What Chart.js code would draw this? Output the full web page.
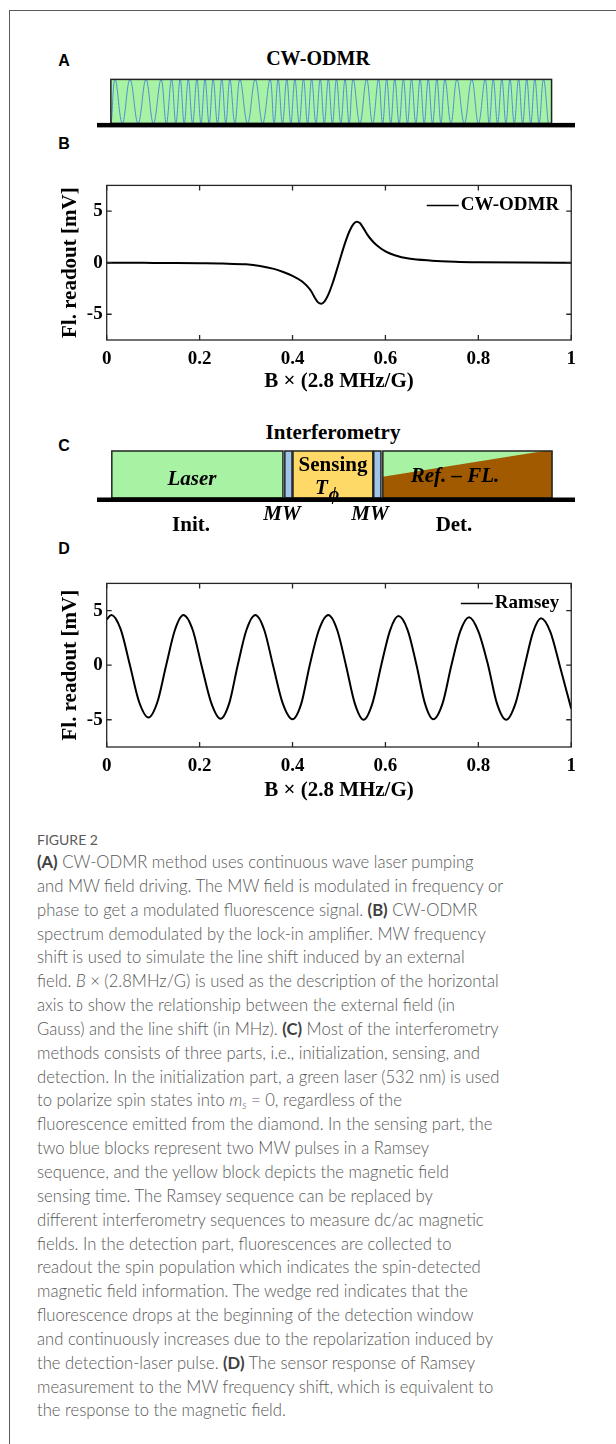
<!DOCTYPE html>
<html>
<head>
<meta charset="utf-8">
<script src="https://cdn.jsdelivr.net/npm/chart.js@4.4.1/dist/chart.umd.min.js"></script>
<style>
html, body { margin: 0; padding: 0; background: #fff; }
body { width: 616px; height: 1444px; position: relative; overflow: hidden; }
.frame { position: absolute; left: 9px; top: 10px; width: 620px; height: 1450px; border-left: 1px solid #5a5a5a; border-top: 1px solid #5a5a5a; }
canvas { position: absolute; }
.lbl { position: absolute; font-family: "Liberation Sans", Arial, sans-serif; font-weight: bold; font-size: 16px; color: #000; transform: translate(-50%, -50%); line-height: 1; }
.tx { position: absolute; font-family: "Liberation Serif", "Times New Roman", serif; font-weight: bold; font-size: 21px; color: #000; transform: translate(-50%, -50%); white-space: nowrap; line-height: 1; }
.it { font-style: italic; }
.cap { position: absolute; left: 37px; font-family: Lato, "Open Sans", sans-serif; font-weight: 300; color: #585858; font-size: 16.65px; white-space: nowrap; line-height: 23.85px; }
.cap b { color: #404040; font-weight: 700; }
.cap sub { font-size: 11px; vertical-align: -3px; line-height: 0; }
.fig { position: absolute; left: 37px; top: 831px; font-family: Lato, "Open Sans", sans-serif; color: #5a5a5a; font-size: 14px; line-height: 18px; }
</style>
</head>
<body>
<div class="frame"></div>

<div class="lbl" style="left:64px; top:61px;">A</div>
<div class="lbl" style="left:64px; top:144px;">B</div>
<div class="lbl" style="left:64px; top:446px;">C</div>
<div class="lbl" style="left:64px; top:549px;">D</div>

<div class="tx" style="left:318px; top:58px; font-size:20px;">CW-ODMR</div>
<canvas id="cvA" width="478" height="55" style="left:97px; top:75px;"></canvas>

<canvas id="cvB" width="540" height="226" style="left:44px; top:170px;"></canvas>

<div class="tx" style="left:333px; top:432px;">Interferometry</div>
<canvas id="cvC" width="478" height="58" style="left:97px; top:447px;"></canvas>
<div class="tx it" style="left:192px; top:478px;">Laser</div>
<div class="tx" style="left:333px; top:464px;">Sensing</div>
<div class="tx it" style="left:327px; top:487px;">T<span style="font-size:18px; position:relative; top:6px; margin-left:1px;">&#981;</span></div>
<div class="tx it" style="left:455px; top:475px;">Ref. &ndash; FL.</div>
<div class="tx it" style="left:282px; top:513px;">MW</div>
<div class="tx it" style="left:370px; top:513px;">MW</div>
<div class="tx" style="left:191px; top:524px;">Init.</div>
<div class="tx" style="left:454px; top:524px;">Det.</div>

<canvas id="cvD" width="540" height="237" style="left:44px; top:568px;"></canvas>

<div class="fig">FIGURE 2</div>
<div class="cap" style="top:851px;">
<div><b>(A)</b> CW-ODMR method uses continuous wave laser pumping</div>
<div>and MW field driving. The MW field is modulated in frequency or</div>
<div>phase to get a modulated fluorescence signal. <b>(B)</b> CW-ODMR</div>
<div>spectrum demodulated by the lock-in amplifier. MW frequency</div>
<div>shift is used to simulate the line shift induced by an external</div>
<div>field. <i>B</i> &times; (2.8MHz/G) is used as the description of the horizontal</div>
<div>axis to show the relationship between the external field (in</div>
<div>Gauss) and the line shift (in MHz). <b>(C)</b> Most of the interferometry</div>
<div>methods consists of three parts, i.e., initialization, sensing, and</div>
<div>detection. In the initialization part, a green laser (532 nm) is used</div>
<div>to polarize spin states into <i>m<sub>s</sub></i> = 0, regardless of the</div>
<div>fluorescence emitted from the diamond. In the sensing part, the</div>
<div>two blue blocks represent two MW pulses in a Ramsey</div>
<div>sequence, and the yellow block depicts the magnetic field</div>
<div>sensing time. The Ramsey sequence can be replaced by</div>
<div>different interferometry sequences to measure dc/ac magnetic</div>
<div>fields. In the detection part, fluorescences are collected to</div>
<div>readout the spin population which indicates the spin-detected</div>
<div>magnetic field information. The wedge red indicates that the</div>
<div>fluorescence drops at the beginning of the detection window</div>
<div>and continuously increases due to the repolarization induced by</div>
<div>the detection-laser pulse. <b>(D)</b> The sensor response of Ramsey</div>
<div>measurement to the MW frequency shift, which is equivalent to</div>
<div>the response to the magnetic field.</div>
</div>

<script>
// ---- data ----

// panel A: time axis runs 0..100 along the black base line
var cwBlock = [2.9, 95.1];
var chirpPeaks = [3.8, 6.9, 10.25, 13.4, 15.6, 17.4, 19.1, 20.9, 22.6, 24.3, 26.1, 27.8, 29.9, 33.1,
  36.2, 37.9, 39.7, 41.4, 43.2, 44.9, 46.7, 48.4, 50.1, 51.9, 53.6, 56.4, 58.9, 60.6, 62.3, 64.1,
  65.8, 67.6, 69.3, 71.1, 72.8, 75.3, 78.4, 81.2, 82.9, 84.7, 86.4, 88.2, 89.9, 91.6, 93.4];
var chirpTroughs = [3.0, 5.3, 8.6, 11.8, 14.5, 16.5, 18.25, 20.0, 21.75, 23.45, 25.2, 26.95, 28.85, 31.5,
  34.65, 37.05, 38.8, 40.55, 42.3, 44.05, 45.8, 47.55, 49.25, 51.0, 52.75, 55.0, 57.65, 59.75, 61.45,
  63.2, 64.95, 66.7, 68.45, 70.2, 71.95, 74.05, 76.85, 79.8, 82.05, 83.8, 85.55, 87.3, 89.05, 90.75,
  92.5, 94.4];

// panel B: CW-ODMR lock-in spectrum
var odmrX = [0, 0.05, 0.1, 0.15, 0.2, 0.25, 0.3, 0.33, 0.36, 0.38, 0.4, 0.42, 0.43, 0.44, 0.448, 0.455,
  0.462, 0.469, 0.477, 0.487, 0.5, 0.513, 0.523, 0.531, 0.538, 0.545, 0.552, 0.56, 0.57, 0.58, 0.6,
  0.62, 0.65, 0.7, 0.75, 0.8, 0.9, 1.0];
var odmrY = [0, 0, -0.02, -0.03, -0.05, -0.08, -0.16, -0.32, -0.6, -0.9, -1.27, -1.8, -2.2, -2.75, -3.4,
  -3.85, -3.98, -3.75, -3.1, -1.9, 0, 1.9, 3.1, 3.75, 3.98, 3.85, 3.4, 2.8, 2.2, 1.75, 1.1, 0.73,
  0.4, 0.2, 0.1, 0.05, 0.01, 0];

// panel C: interferometry sequence blocks on the same 0..100 time axis
var seqNames = ['Laser', 'MW', 'Sensing', 'MW', 'Ref. - FL.'];
var seqStart = [3.1, 39.3, 41.0, 57.9, 59.8];
var seqEnd = [38.9, 40.8, 57.7, 59.4, 95.2];
var wedgeTop = [59.8, 93.5];   // green part of the detection window, along its top edge
var wedgeLeft = 0.45;          // height where the wedge meets the left edge (0..1)

// panel D: Ramsey fringes
var ramseyX = [0, 0.01, 0.03, 0.05, 0.07, 0.09, 0.109, 0.128, 0.147, 0.165, 0.185, 0.204, 0.225, 0.245,
  0.264, 0.282, 0.301, 0.32, 0.339, 0.358, 0.379, 0.4, 0.419, 0.437, 0.457, 0.477, 0.496, 0.515,
  0.534, 0.553, 0.572, 0.591, 0.61, 0.628, 0.648, 0.667, 0.685, 0.703, 0.723, 0.742, 0.761, 0.78,
  0.8, 0.821, 0.84, 0.86, 0.88, 0.9, 0.918, 0.935, 0.955, 0.975, 1.0];
var ramseyY = [4.2, 4.6, 3.3, 0, -3.4, -4.8, -3.4, 0, 3.25, 4.6, 3.25, 0, -3.45, -4.9,
  -3.45, 0, 3.25, 4.6, 3.25, 0, -3.5, -4.95, -3.5, 0, 3.25, 4.6, 3.25, 0,
  -3.5, -5.0, -3.5, 0, 3.2, 4.5, 3.2, 0, -3.5, -4.95, -3.5, 0, 3.1, 4.4,
  3.1, 0, -3.5, -5.0, -3.5, 0, 3.05, 4.3, 3.05, 0, -4.0];

var xTicks = [0, 0.2, 0.4, 0.6, 0.8, 1];
var xTickLabels = ['0', '0.2', '0.4', '0.6', '0.8', '1'];
var yTicks = [-5, 0, 5];
var yTickLabels = ['-5', '0', '5'];

// ---- drawing ----
var SERIF = '"Liberation Serif", "Times New Roman", serif';
var BLOCK_COLORS = ['#a8f2a4', '#9fc6ea', '#ffd968', '#9fc6ea', '#a15a00'];
var WEDGE_GREEN = '#a8f2a4';

function toPoints(xs, ys) {
  return xs.map(function(x, i) { return { x: x, y: ys[i] }; });
}

function chirpPoints() {
  var pts = chirpPeaks.map(function(x) { return { x: x, y: 1 }; })
    .concat(chirpTroughs.map(function(x) { return { x: x, y: 0 }; }));
  pts.sort(function(a, b) { return a.x - b.x; });
  return pts;
}

function baseLine(chart) {
  var ctx = chart.ctx, x = chart.scales.x, y = chart.scales.y;
  var y0 = y.getPixelForValue(0);
  ctx.fillStyle = '#000';
  ctx.fillRect(x.getPixelForValue(0), y0 - 0.5, x.getPixelForValue(100) - x.getPixelForValue(0), 4.5);
}

var cwPlugin = {
  id: 'cwBlock',
  beforeDatasetsDraw: function(chart) {
    var ctx = chart.ctx, x = chart.scales.x, y = chart.scales.y;
    ctx.save();
    ctx.fillStyle = BLOCK_COLORS[0];
    ctx.fillRect(x.getPixelForValue(cwBlock[0]), y.getPixelForValue(1),
      x.getPixelForValue(cwBlock[1]) - x.getPixelForValue(cwBlock[0]), y.getPixelForValue(0) - y.getPixelForValue(1));
    ctx.restore();
  },
  afterDatasetsDraw: function(chart) {
    var ctx = chart.ctx, x = chart.scales.x, y = chart.scales.y;
    ctx.save();
    ctx.strokeStyle = '#222';
    ctx.lineWidth = 1.5;
    ctx.strokeRect(x.getPixelForValue(cwBlock[0]), y.getPixelForValue(1),
      x.getPixelForValue(cwBlock[1]) - x.getPixelForValue(cwBlock[0]), y.getPixelForValue(0) - y.getPixelForValue(1));
    baseLine(chart);
    ctx.restore();
  }
};

var seqPlugin = {
  id: 'sequence',
  afterDatasetsDraw: function(chart) {
    var ctx = chart.ctx, x = chart.scales.x, y = chart.scales.y;
    var top = y.getPixelForValue(1), bot = y.getPixelForValue(0);
    ctx.save();
    seqStart.forEach(function(s, i) {
      var l = x.getPixelForValue(s), r = x.getPixelForValue(seqEnd[i]);
      ctx.fillStyle = BLOCK_COLORS[i];
      ctx.fillRect(l, top, r - l, bot - top);
      if (i === seqStart.length - 1) {
        ctx.fillStyle = WEDGE_GREEN;
        ctx.beginPath();
        ctx.moveTo(x.getPixelForValue(wedgeTop[0]), top);
        ctx.lineTo(x.getPixelForValue(wedgeTop[1]), top);
        ctx.lineTo(x.getPixelForValue(wedgeTop[0]), y.getPixelForValue(wedgeLeft));
        ctx.closePath();
        ctx.fill();
      }
      ctx.strokeStyle = '#222';
      ctx.lineWidth = 1.5;
      ctx.strokeRect(l, top, r - l, bot - top);
    });
    baseLine(chart);
    ctx.restore();
  }
};

var boxPlugin = {
  id: 'boxTicks',
  afterDatasetsDraw: function(chart) {
    var ctx = chart.ctx, a = chart.chartArea, x = chart.scales.x, y = chart.scales.y;
    ctx.save();
    ctx.strokeStyle = '#262626';
    ctx.lineWidth = 1.3;
    ctx.strokeRect(a.left, a.top, a.right - a.left, a.bottom - a.top);
    ctx.beginPath();
    x.ticks.forEach(function(t) {
      var px = x.getPixelForValue(t.value);
      ctx.moveTo(px, a.bottom); ctx.lineTo(px, a.bottom - 5);
      ctx.moveTo(px, a.top); ctx.lineTo(px, a.top + 5);
    });
    y.ticks.forEach(function(t) {
      var py = y.getPixelForValue(t.value);
      ctx.moveTo(a.left, py); ctx.lineTo(a.left + 5, py);
      ctx.moveTo(a.right, py); ctx.lineTo(a.right - 5, py);
    });
    ctx.stroke();

    // legend without box, top right
    var ds = chart.data.datasets[0];
    ctx.font = 'bold 19px ' + SERIF;
    ctx.fillStyle = '#000';
    ctx.textAlign = 'right';
    ctx.textBaseline = 'middle';
    var tx = a.right - 12, ty = a.top + 20;
    ctx.fillText(ds.label, tx, ty);
    var w = ctx.measureText(ds.label).width;
    ctx.beginPath();
    ctx.lineWidth = 1.5;
    ctx.strokeStyle = '#000';
    ctx.moveTo(tx - w - 2, ty);
    ctx.lineTo(tx - w - 34, ty);
    ctx.stroke();
    ctx.restore();
  }
};

function schematicOptions(yMin, yMax) {
  return {
    responsive: false, animation: false, events: [],
    layout: { padding: 0 },
    plugins: { legend: { display: false }, tooltip: { enabled: false } },
    scales: {
      x: { type: 'linear', display: false, min: 0, max: 100 },
      y: { type: 'linear', display: false, min: yMin, max: yMax }
    }
  };
}

function plotOptions(xAxisHeight) {
  return {
    responsive: false, animation: false, events: [],
    layout: { padding: { top: 12, right: 12, left: 0, bottom: 0 } },
    plugins: { legend: { display: false }, tooltip: { enabled: false } },
    scales: {
      x: {
        type: 'linear', min: 0, max: 1,
        grid: { display: false, drawTicks: false }, border: { display: false },
        afterBuildTicks: function(s) { s.ticks = xTicks.map(function(v) { return { value: v }; }); },
        afterFit: function(s) { s.height = xAxisHeight; },
        ticks: {
          autoSkip: false, maxRotation: 0, padding: 8, color: '#000',
          font: { family: SERIF, size: 19, weight: 'bold' },
          callback: function(v, i) { return xTickLabels[i]; }
        },
        title: {
          display: true, text: 'B \u00d7 (2.8 MHz/G)', color: '#000',
          font: { family: SERIF, size: 21, weight: 'bold', lineHeight: 1.2 },
          padding: { top: 0, bottom: 2 }
        }
      },
      y: {
        type: 'linear', min: -7.5, max: 7.5,
        grid: { display: false, drawTicks: false }, border: { display: false },
        afterBuildTicks: function(s) { s.ticks = yTicks.map(function(v) { return { value: v }; }); },
        afterFit: function(s) { s.width = 62.7; },
        ticks: {
          autoSkip: false, padding: 4, color: '#000',
          font: { family: SERIF, size: 19, weight: 'bold' },
          callback: function(v, i) { return yTickLabels[i]; }
        },
        title: {
          display: true, text: 'Fl. readout [mV]', color: '#000',
          font: { family: SERIF, size: 21, weight: 'bold', lineHeight: 1.2 },
          padding: { top: 14, bottom: 0 }
        }
      }
    }
  };
}

function curve(label, pts) {
  return {
    label: label, data: pts, borderColor: '#000', borderWidth: 2,
    pointRadius: 0, fill: false, tension: 0.4, cubicInterpolationMode: 'monotone'
  };
}

new Chart(document.getElementById('cvA'), {
  type: 'line',
  data: { datasets: [{ data: chirpPoints(), borderColor: '#4d8fd8', borderWidth: 1, pointRadius: 0, fill: false, tension: 0.4 }] },
  options: schematicOptions(-0.15, 1.1),
  plugins: [cwPlugin]
});

new Chart(document.getElementById('cvB'), {
  type: 'line',
  data: { datasets: [curve('CW-ODMR', toPoints(odmrX, odmrY))] },
  options: plotOptions(56),
  plugins: [boxPlugin]
});

new Chart(document.getElementById('cvC'), {
  type: 'line',
  data: { datasets: [{ data: [] }] },
  options: schematicOptions(-0.149, 1.085),
  plugins: [seqPlugin]
});

new Chart(document.getElementById('cvD'), {
  type: 'line',
  data: { datasets: [curve('Ramsey', toPoints(ramseyX, ramseyY))] },
  options: plotOptions(58),
  plugins: [boxPlugin]
});
</script>
</body>
</html>
